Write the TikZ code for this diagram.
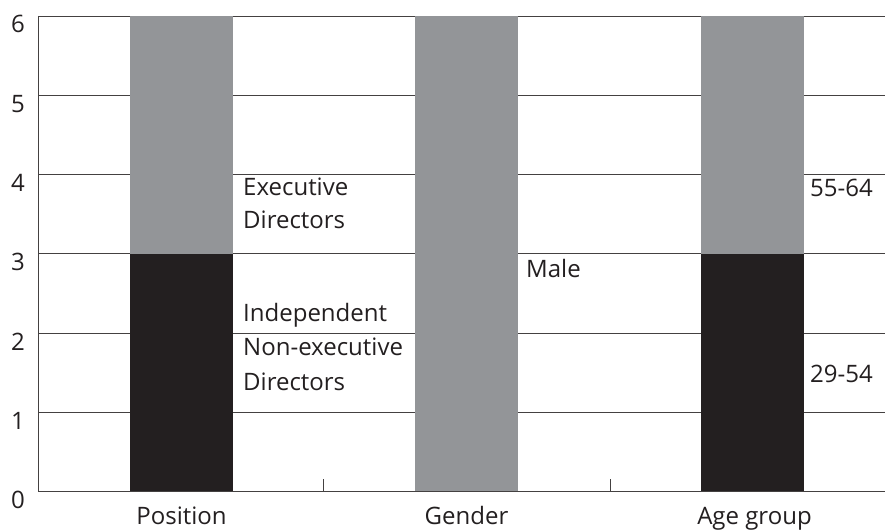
\documentclass[tikz,border=0pt]{standalone}
\usepackage{fontspec}
\setmainfont{Open Sans}
\usepackage{tikz}
\definecolor{barGray}{HTML}{939598}
\definecolor{barBlack}{HTML}{231F20}
\tikzset{
grid/.style={draw=barBlack!85,line width=0.8pt},
lbl/.style={anchor=base west,inner sep=0pt,font=\fontsize{24}{28}\selectfont,text=barBlack},
cat/.style={anchor=base,inner sep=0pt,font=\fontsize{24}{28}\selectfont,text=barBlack}
}
\begin{document}
\begin{tikzpicture}[x=1pt,y=79.25pt]
\useasboundingbox (-38.5pt,-39.5pt) rectangle (846.5pt,491.5pt);
\foreach \k in {1,...,6}
\draw[grid] (0,\k) -- (846.5,\k);
\foreach \k in {0,...,6}
\node[cat] (y\k) at (-20.5pt,{\k*79.25pt-17pt}) {\k};
\fill[barBlack] (91.5,0) rectangle (194.5,3);
\fill[barGray] (91.5,3) rectangle (194.5,6);
\fill[barGray] (376.5,0) rectangle (479.5,6);
\fill[barBlack] (662.5,0) rectangle (765.5,3);
\fill[barGray] (662.5,3) rectangle (765.5,6);
\draw[grid] (0,6) -- (0,0) -- (846.5,0);
\draw[grid,line width=1.2pt] (0,0) -- (0,13pt);
\draw[grid] (285,0) -- (285,13pt);
\draw[grid] (571.5,0) -- (571.5,13pt);
\node[lbl] (exe1) at (204.5pt,296.5pt) {Executive};
\node[lbl] (exe2) at (204.5pt,263.5pt) {Directors};
\node[lbl] (ind1) at (204.5pt,170.5pt) {Independent};
\node[lbl] (ind2) at (204.5pt,136.5pt) {Non-executive};
\node[lbl] (ind3) at (204.5pt,101.5pt) {Directors};
\node[lbl] (male) at (487.5pt,214.5pt) {Male};
\node[lbl] (old) at (771.5pt,295.5pt) {55-64};
\node[lbl] (young) at (771.5pt,109.5pt) {29-54};
\node[cat] (pos) at (143pt,-33pt) {Position};
\node[cat] (gen) at (428pt,-33pt) {Gender};
\node[cat] (age) at (716pt,-33pt) {Age group};
\end{tikzpicture}
\end{document}
